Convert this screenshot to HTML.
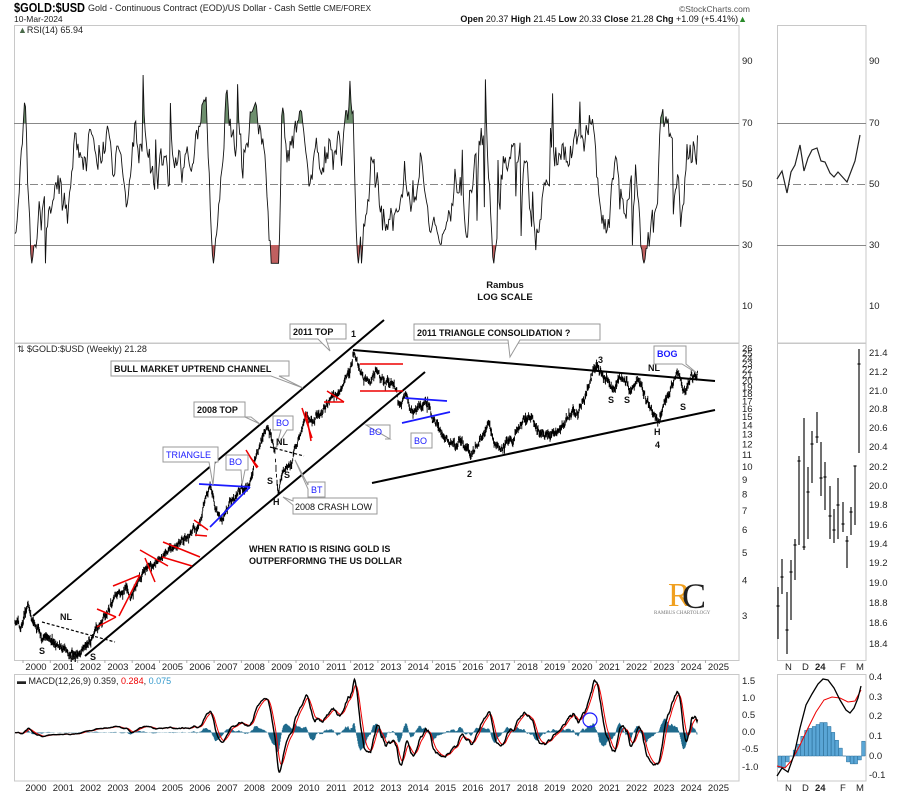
<!DOCTYPE html>
<html><head><meta charset="utf-8"><style>
html,body{margin:0;padding:0;background:#fff}
svg{display:block}
text{font-family:"Liberation Sans",sans-serif}
.ax{font-size:9.5px;fill:#222}
.an{font-size:9px;font-weight:bold;fill:#111}
.bl{font-size:9px;font-weight:bold;fill:#1a1aff}
</style></head><body>
<svg id="s" width="900" height="797" viewBox="0 0 900 797" xmlns="http://www.w3.org/2000/svg">
<defs>
<clipPath id="cR"><rect x="14" y="25" width="725" height="318"/></clipPath>
<clipPath id="cHi"><rect x="14" y="25" width="725" height="98"/></clipPath>
<clipPath id="cLo"><rect x="14" y="245" width="725" height="98"/></clipPath>
<clipPath id="cM"><rect x="14" y="343" width="725" height="317"/></clipPath>
<clipPath id="cD"><rect x="14" y="674" width="725" height="107"/></clipPath>
</defs>
<text x="14" y="12" textLength="71" lengthAdjust="spacingAndGlyphs" style="font-size:12.5px;font-weight:bold;fill:#000">$GOLD:$USD</text>
<text x="88" y="11" textLength="283" lengthAdjust="spacingAndGlyphs" style="font-size:9px;fill:#222">Gold - Continuous Contract (EOD)/US Dollar - Cash Settle <tspan font-size="8">CME/FOREX</tspan></text>
<text x="14" y="22" style="font-size:8.5px;fill:#222">10-Mar-2024</text>
<text x="750" y="12" text-anchor="end" style="font-size:8.5px;fill:#555">©StockCharts.com</text>
<text x="747" y="22" text-anchor="end" style="font-size:9px;fill:#111"><tspan font-weight="bold">Open</tspan> 20.37 <tspan font-weight="bold">High</tspan> 21.45 <tspan font-weight="bold">Low</tspan> 20.33 <tspan font-weight="bold">Close</tspan> 21.28 <tspan font-weight="bold">Chg</tspan> +1.09 (+5.41%)<tspan fill="#2a8a2a">▲</tspan></text>

<g fill="none" stroke="#c8c8c8" stroke-width="1">
<rect x="14.5" y="25.5" width="724.5" height="317.5"/>
<rect x="14.5" y="343.5" width="724.5" height="317"/>
<rect x="14.5" y="674.5" width="724.5" height="106.5"/>
<rect x="777.5" y="25.5" width="88.5" height="317.5"/>
<rect x="777.5" y="343.5" width="88.5" height="317"/>
<rect x="777.5" y="674.5" width="88.5" height="106.5"/>
</g>
<g stroke="#888" stroke-width="1">
<line x1="14" y1="123.5" x2="739" y2="123.5"/><line x1="14" y1="245.5" x2="739" y2="245.5"/>
<line x1="777" y1="123.5" x2="866" y2="123.5"/><line x1="777" y1="245.5" x2="866" y2="245.5"/>
<line x1="14" y1="184.5" x2="739" y2="184.5" stroke-dasharray="8,3,2,3"/>
<line x1="777" y1="184.5" x2="866" y2="184.5" stroke-dasharray="8,3,2,3"/>
</g>
<g class="ax">
<text x="742" y="64">90</text><text x="742" y="126">70</text><text x="742" y="187">50</text><text x="742" y="248">30</text><text x="742" y="309">10</text>
<text x="869" y="64">90</text><text x="869" y="126">70</text><text x="869" y="187">50</text><text x="869" y="248">30</text><text x="869" y="309">10</text>
</g>
<text x="18" y="33" style="font-size:9px;fill:#222"><tspan fill="#4a6a4a">▲</tspan>RSI(14) 65.94</text>
<text x="505" y="288" text-anchor="middle" class="an" style="font-size:9.5px">Rambus</text>
<text x="505" y="300" text-anchor="middle" class="an" style="font-size:9.5px">LOG SCALE</text>

<g id="rsiG"></g>
<g id="priceG"></g>
<g id="macdG"></g>

<text x="17" y="352" style="font-size:9px;fill:#222">⇅ $GOLD:$USD (Weekly) 21.28</text>
<g class="ax" id="paxis"></g>
<g class="ax" id="xaxis"></g>

<g class="ax">
<text x="742" y="684">1.5</text><text x="742" y="701">1.0</text><text x="742" y="718">0.5</text><text x="742" y="735">0.0</text><text x="742" y="752">-0.5</text><text x="742" y="770">-1.0</text>
<text x="869" y="680">0.4</text><text x="869" y="700">0.3</text><text x="869" y="719">0.2</text><text x="869" y="739">0.1</text><text x="869" y="759">0.0</text><text x="869" y="778">-0.1</text>
</g>
<text x="17" y="684" style="font-size:9px;fill:#222">▬ MACD(12,26,9) 0.359, <tspan fill="#e00">0.284</tspan>, <tspan fill="#39c">0.075</tspan></text>

<g class="ax">
<text x="785" y="670">N</text><text x="802" y="670">D</text><text x="815" y="670" font-weight="bold">24</text><text x="840" y="670">F</text><text x="856" y="670">M</text>
<text x="785" y="791">N</text><text x="802" y="791">D</text><text x="815" y="791" font-weight="bold">24</text><text x="840" y="791">F</text><text x="856" y="791">M</text>
<text x="869" y="356">21.4</text><text x="869" y="375">21.2</text><text x="869" y="394">21.0</text><text x="869" y="412">20.8</text><text x="869" y="431">20.6</text><text x="869" y="450">20.4</text><text x="869" y="470">20.2</text><text x="869" y="489">20.0</text><text x="869" y="508">19.8</text><text x="869" y="528">19.6</text><text x="869" y="547">19.4</text><text x="869" y="566">19.2</text><text x="869" y="586">19.0</text><text x="869" y="606">18.8</text><text x="869" y="626">18.6</text><text x="869" y="647">18.4</text>
</g>
<polyline fill="none" stroke="#222" stroke-width="1.2" points="777,179 782,171 787,193 791,172 795,165 800,145 804,171 808,158 812,150 817,148 821,161 825,162 830,173 834,177 838,172 847,182 855,161 860,135"/>
<g id="mini"></g>

<g stroke="#000" stroke-width="2" fill="none">
<line x1="33" y1="616" x2="384" y2="320"/>
<line x1="85" y1="656" x2="425" y2="372"/>
<line x1="353" y1="350" x2="715" y2="381"/>
<line x1="372" y1="483" x2="715" y2="410"/>
</g>
<g stroke="#000" stroke-width="1.2" stroke-dasharray="3,2">
<line x1="42" y1="622" x2="115" y2="642"/><line x1="270" y1="447" x2="304" y2="456"/>
</g>
<g stroke="#e00" stroke-width="1.5">
<line x1="97" y1="609" x2="116" y2="617"/><line x1="97" y1="627" x2="116" y2="617"/>
<line x1="113" y1="586" x2="140" y2="575"/><line x1="119" y1="616" x2="140" y2="575"/>
<line x1="140" y1="550" x2="168" y2="566"/><line x1="145" y1="558" x2="155" y2="582"/>
<line x1="163" y1="542" x2="200" y2="557"/><line x1="162" y1="557" x2="192" y2="566"/>
<line x1="194" y1="520" x2="208" y2="530"/><line x1="195" y1="535" x2="207" y2="536"/>
<line x1="246" y1="450" x2="257" y2="468"/><line x1="250" y1="457" x2="258" y2="467"/>
<line x1="302" y1="408" x2="312" y2="438"/><line x1="306" y1="412" x2="311" y2="441"/>
<line x1="327" y1="391" x2="344" y2="402"/><line x1="324" y1="402" x2="344" y2="402"/>
<line x1="360" y1="364" x2="403" y2="364"/><line x1="360" y1="391" x2="403" y2="391"/>
</g>
<g stroke="#1a1aff" stroke-width="1.7">
<line x1="199" y1="484" x2="250" y2="487"/><line x1="210" y1="527" x2="250" y2="487"/>
<line x1="405" y1="398" x2="447" y2="401"/><line x1="402" y1="423" x2="450" y2="412"/>
</g>

<g fill="#fff" stroke="#999" stroke-width="1">
<path d="M290,324h56v15h-20l4,12-12,-12h-28z"/>
<path d="M414,324h186v16h-80l-10,17 -2,-17h-94z"/>
<path d="M111,361h178v15h-10l24,12-32,-12h-160z"/>
<path d="M194,402h51v15h6l9,7-15,-7h-51z"/>
<path d="M163,447h55v15h-3l-2,23-4,-23h-46z"/>
<path d="M226,455h22v15h-3l-3,15-1,-15h-15z"/>
<path d="M273,416h20v14h-6l-11,18 5,-18h-8z"/>
<path d="M366,425h24v14h-5l5,0z"/>
<path d="M411,433h21v15h-21z"/>
<path d="M308,482h17v15h-17v-8l-13,-29 13,25z"/>
<path d="M293,498h84v16h-84v-9l-10,-8 10,4z"/>
<path d="M654,346h32v18l12,10-16,-10h-28z"/>
</g>
<g class="an">
<text x="293" y="335">2011 TOP</text>
<text x="417" y="336">2011 TRIANGLE CONSOLIDATION ?</text>
<text x="114" y="372">BULL MARKET UPTREND CHANNEL</text>
<text x="197" y="413">2008 TOP</text>
<text x="295" y="510" style="font-weight:normal">2008 CRASH LOW</text>
<text x="249" y="552">WHEN RATIO IS RISING GOLD IS</text>
<text x="249" y="564">OUTPERFORMNG THE US DOLLAR</text>
<text x="351" y="337">1</text><text x="598" y="363">3</text><text x="467" y="477">2</text>
<text x="655" y="448">4</text><text x="654" y="435">H</text><text x="648" y="371">NL</text>
<text x="608" y="403">S</text><text x="624" y="403">S</text><text x="680" y="410">S</text>
<text x="60" y="620">NL</text><text x="39" y="654">S</text><text x="70" y="662">H</text><text x="90" y="660">S</text>
<text x="267" y="484">S</text><text x="273" y="505">H</text><text x="284" y="478">S</text><text x="276" y="445">NL</text>
</g>
<g class="bl" style="font-weight:normal">
<text x="166" y="458">TRIANGLE</text><text x="229" y="465">BO</text><text x="276" y="426">BO</text>
<text x="369" y="435">BO</text><text x="414" y="444">BO</text><text x="311" y="493">BT</text>
<text x="657" y="357" font-weight="bold">BOG</text>
</g>
<text x="668" y="606" style="font-family:'Liberation Serif',serif;font-size:34px;fill:#f0a020">R</text>
<text x="682" y="608" style="font-family:'Liberation Serif',serif;font-size:36px;fill:#222">C</text>
<text x="654" y="614" style="font-family:'Liberation Serif',serif;font-size:5px;fill:#777">RAMBUS CHARTOLOGY</text>
<circle cx="590" cy="720" r="7" fill="none" stroke="#1a1aff" stroke-width="1.2"/>
</svg>
<script>
(function(){
var NS="http://www.w3.org/2000/svg";
function el(p,t,a){var e=document.createElementNS(NS,t);for(var k in a)e.setAttribute(k,a[k]);p.appendChild(e);return e;}
var s=1234567;function r(){s^=s<<13;s^=s>>>17;s^=s<<5;return ((s>>>0)%100000)/100000;}
function g(){return (r()+r()+r()+r()-2)*1.7;}
var P=[[15,622],[22,628],[28,603],[35,625],[45,638],[55,645],[65,650],[72,655],[80,648],[90,640],[100,622],[115,600],[125,588],[130,597],[140,578],[150,565],[160,560],[170,548],[180,545],[190,535],[200,525],[205,503],[210,486],[215,510],[222,520],[230,500],[240,490],[248,482],[255,460],[262,438],[268,425],[275,452],[278,495],[283,470],[290,462],[295,450],[300,440],[305,420],[315,418],[325,410],[330,400],[340,390],[345,378],[350,368],[354,350],[360,368],[368,382],[375,372],[385,382],[395,390],[400,405],[405,400],[415,410],[425,403],[430,412],[440,430],[445,440],[455,448],[460,440],[471,457],[480,440],[489,424],[495,440],[499,454],[510,440],[520,425],[530,418],[540,435],[547,440],[560,428],[565,420],[575,412],[580,405],[588,392],[593,378],[598,370],[605,378],[612,387],[620,378],[630,385],[640,380],[645,395],[650,410],[658,420],[662,410],[667,395],[672,384],[677,378],[682,385],[686,393],[691,379],[695,378],[698,372]];
function base(x){for(var i=1;i<P.length;i++){if(x<=P[i][0]){var a=P[i-1],b=P[i],t=(x-a[0])/(b[0]-a[0]);return a[1]+(b[1]-a[1])*t;}}return P[P.length-1][1];}
var dx=0.523,xs=[],cy=[],n=0,pr=[];
for(var x=15;x<=698;x+=dx){n=0.8*n+g()*1.6;var y=base(x)+n;xs.push(x);cy.push(y);}
var L=xs.length;cy[L-1]=372;
var d="";for(var i=0;i<L;i++){var h=cy[i]-Math.abs(g())*2-1,l=cy[i]+Math.abs(g())*2+1;d+="M"+xs[i].toFixed(2)+","+h.toFixed(1)+"V"+l.toFixed(1);pr.push(10*Math.exp((467-cy[i])/123.8));}
el(document.getElementById("priceG"),"path",{d:d,stroke:"#000","stroke-width":"0.9",fill:"none","clip-path":"url(#cM)"});
// synthetic RSI
var pts=[],rn=0,sp2=0;
for(var x=15;x<=698;x+=1.05){var sl=-(base(x+4)-base(x-4))/8;rn=0.6*rn+g()*3.2;
 if(sp2!==0){sp2*=0.4;if(Math.abs(sp2)<1)sp2=0;}
 if(r()<0.03)sp2=(r()<0.6?1:-1)*(12+r()*14);
 var v=50+sl*8+rn+sp2;v=Math.max(24,Math.min(86,v));if(x+1.05>698)v=65.94;pts.push(x.toFixed(2)+","+(336.5-v*3.05).toFixed(1));}
var RG=document.getElementById("rsiG");
el(RG,"path",{d:"M15,123L"+pts.join("L")+"L698,123Z",fill:"#6d8f6d","clip-path":"url(#cHi)"});
el(RG,"path",{d:"M15,245L"+pts.join("L")+"L698,245Z",fill:"#c06060","clip-path":"url(#cLo)"});
el(RG,"polyline",{points:pts.join(" "),fill:"none",stroke:"#111","stroke-width":"0.9","clip-path":"url(#cR)"});
function ema(a,k){var o=[],m=a[0],al=2/(k+1);for(var i=0;i<a.length;i++){m=al*a[i]+(1-al)*m;o.push(m);}return o;}
var e12=ema(pr,12),e26=ema(pr,26),mc=[];for(var i=0;i<L;i++)mc.push(e12[i]-e26[i]);
var mx=0;for(var i=0;i<L;i++)mx=Math.max(mx,Math.abs(mc[i]));var sc=1.55/mx;for(var i=0;i<L;i++)mc[i]*=sc;
var sg=ema(mc,9);var MG=document.getElementById("macdG");var hd="";
for(var i=0;i<L;i++){var hv=(mc[i]-sg[i]);hd+="M"+xs[i].toFixed(2)+",732.5V"+(732.5-hv*34.3*1.1).toFixed(1);}
el(MG,"path",{d:hd,stroke:"#1f6a8c","stroke-width":"0.8",fill:"none","clip-path":"url(#cD)"});
var sp=[],mp=[];for(var i=0;i<L;i++){sp.push(xs[i].toFixed(2)+","+(732.5-sg[i]*34.3).toFixed(1));mp.push(xs[i].toFixed(2)+","+(732.5-mc[i]*34.3).toFixed(1));}
el(MG,"polyline",{points:sp.join(" "),fill:"none",stroke:"#e00","stroke-width":"1","clip-path":"url(#cD)"});
el(MG,"polyline",{points:mp.join(" "),fill:"none",stroke:"#000","stroke-width":"1.4","clip-path":"url(#cD)"});
var XA=document.getElementById("xaxis");
for(var yr=2000;yr<=2025;yr++){var xx=36+27.3*(yr-2000);
 el(XA,"text",{x:xx,y:670,"text-anchor":"middle"}).textContent=yr;
 el(XA,"text",{x:xx,y:791,"text-anchor":"middle"}).textContent=yr;
 el(XA,"line",{x1:xx-13,y1:660,x2:xx-13,y2:663,stroke:"#aaa"});}
var PA=document.getElementById("paxis");var tk=[26,25,24,23,22,21,20,19,18,17,16,15,14,13,12,11,10,9,8,7,6,5,4,3];
tk.forEach(function(v){el(PA,"text",{x:742,y:(467-123.8*Math.log(v/10)+3).toFixed(1)}).textContent=v;});
var MB=[[778,587,639,606],[782,559,594,577],[787,592,654,630],[791,560,620,572],[795,539,580,545],[799,456,545,461],[804,418,550,547],[808,467,539,492],[812,431,483,444],[817,412,443,437],[821,442,496,478],[825,462,510,477],[830,486,539,516],[834,509,543,530],[838,478,539,505],[843,502,532,524],[847,536,568,541],[851,507,535,512],[855,466,525,466],[859,349,453,364]];
var mm=document.getElementById("mini"),md="";
MB.forEach(function(b){md+="M"+b[0]+","+b[1]+"V"+b[2]+"M"+(b[0]-1.5)+","+b[3]+"h3";});
el(mm,"path",{d:md,stroke:"#111","stroke-width":"1.2",fill:"none"});
var hv2=[-0.06,-0.06,-0.03,0,0.03,0.06,0.1,0.13,0.14,0.15,0.16,0.17,0.17,0.15,0.12,0.08,0.04,0,-0.03,-0.04,-0.04,-0.02,0.075];
var hx="";hv2.forEach(function(v,i){var xx=778+i*3.8;var y0=756,y1=756-v*197;hx+="M"+xx+","+Math.min(y0,y1)+"h3.6V"+Math.max(y0,y1)+"h-3.6Z";});
el(mm,"path",{d:hx,fill:"#5aa6d6",stroke:"#2a6f9a","stroke-width":"0.5"});
el(mm,"polyline",{points:"777,766 785,768 792,760 800,745 808,728 816,712 824,700 832,697 840,698 848,702 855,701 861,690",fill:"none",stroke:"#e00","stroke-width":"1"});
el(mm,"polyline",{points:"777,776 782,768 788,772 794,755 800,728 806,705 812,694 818,684 823,679 828,680 834,688 840,700 846,710 850,713 854,708 858,698 861,686",fill:"none",stroke:"#000","stroke-width":"1.3"});
})();
</script>
</body></html>
